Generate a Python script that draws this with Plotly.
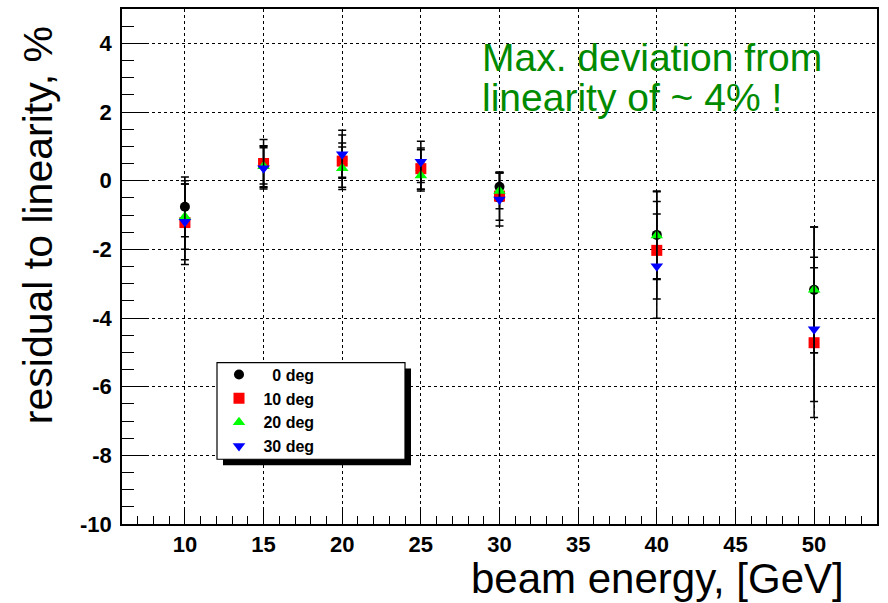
import plotly.graph_objects as go

# ---- data ----
energy = [10, 15, 20, 25, 30, 40, 50]

dev_0deg = [-0.76, 0.45, 0.60, 0.30, -0.18, -1.58, -3.18]
err_0deg = [0.87, 0.55, 0.50, 0.60, 0.42, 1.28, 1.83]

dev_10deg = [-1.22, 0.50, 0.57, 0.35, -0.45, -2.03, -4.72]
err_10deg = [1.22, 0.70, 0.76, 0.60, 0.70, 1.42, 2.18]

dev_20deg = [-1.05, 0.42, 0.36, 0.15, -0.30, -1.60, -3.18]
err_20deg = [0.95, 0.60, 0.62, 0.40, 0.52, 1.28, 1.83]

dev_30deg = [-1.20, 0.36, 0.77, 0.55, -0.55, -2.49, -4.33]
err_30deg = [1.10, 0.60, 0.70, 0.60, 0.77, 1.52, 2.10]

series_names = ["\u00a0\u00a0\u00a00 deg", "\u00a010 deg", "\u00a020 deg", "\u00a030 deg"]
series_dev = [dev_0deg, dev_10deg, dev_20deg, dev_30deg]
series_err = [err_0deg, err_10deg, err_20deg, err_30deg]
series_color = ["#000000", "#ff0000", "#00ff00", "#0000ff"]
series_symbol = ["circle", "square", "triangle-up", "triangle-down"]
series_size = [10, 11, 11, 11]

x_range = [6, 54]
y_range = [-10, 5]
y_tickvals = [-10, -8, -6, -4, -2, 0, 2, 4]
y_ticktext = ["-10", "-8", "-6", "-4", "-2", "0", "2", "4"]
x_tickvals = [10, 15, 20, 25, 30, 35, 40, 45, 50]
x_ticktext = ["10", "15", "20", "25", "30", "35", "40", "45", "50"]

FONT = "Liberation Sans, Arial, Helvetica, sans-serif"

fig = go.Figure()
for name, dev, err, col, sym, sz in zip(series_names, series_dev, series_err,
                                         series_color, series_symbol, series_size):
    fig.add_trace(go.Scatter(
        x=energy, y=dev, mode="markers", name=name,
        marker=dict(color=col, symbol=sym, size=sz, line=dict(width=0)),
        error_y=dict(type="data", array=err, visible=True, color="black",
                     thickness=1.5, width=4),
    ))

# plot area in pixels: x 122..877, y 7..524
W, H = 888, 603
L, R, T, B = 122, 877, 7, 524
def px(xp):
    return (xp - L) / (R - L)
def py(yp):
    return (B - yp) / (B - T)

# legend box with shadow
fig.add_shape(type="rect", xref="paper", yref="paper",
              x0=px(223), x1=px(411), y0=py(465), y1=py(368),
              fillcolor="black", line=dict(width=0), layer="above")
fig.add_shape(type="rect", xref="paper", yref="paper",
              x0=px(217), x1=px(405), y0=py(459), y1=py(362),
              fillcolor="white", line=dict(color="black", width=1.2), layer="above")

fig.update_layout(
    width=W, height=H,
    margin=dict(l=L, r=W - R, t=T, b=H - B),
    paper_bgcolor="white", plot_bgcolor="white",
    showlegend=True,
    legend=dict(x=px(219), y=py(357), xanchor="left", yanchor="top",
                bgcolor="rgba(0,0,0,0)", borderwidth=0, tracegroupgap=0,
                font=dict(family=FONT, size=16, color="black", weight="bold")),
    font=dict(family=FONT, color="black"),
)

axis_common = dict(showline=True, linecolor="black", linewidth=1.5, mirror=True,
                   ticks="inside", tickcolor="black", tickwidth=1.2,
                   showgrid=True, gridcolor="black", gridwidth=1, griddash="dot",
                   zeroline=False,
                   tickfont=dict(family=FONT, size=22, color="black", weight="bold"))

fig.update_xaxes(range=x_range, tickvals=x_tickvals, ticktext=x_ticktext, ticklen=15,
                 minor=dict(ticks="inside", dtick=1, tick0=0, ticklen=8, tickcolor="black",
                            tickwidth=1.2, showgrid=False),
                 **axis_common)
fig.update_yaxes(range=y_range, tickvals=y_tickvals, ticktext=y_ticktext, ticklen=24,
                 ticklabelstandoff=4,
                 minor=dict(ticks="inside", dtick=0.5, tick0=0, ticklen=12, tickcolor="black",
                            tickwidth=1.2, showgrid=False),
                 **axis_common)

# axis titles
fig.add_annotation(text="beam energy, [GeV]", xref="paper", yref="paper",
                   x=px(846), y=py(579), xanchor="right", yanchor="middle",
                   showarrow=False, font=dict(family=FONT, size=42, color="black"))
fig.add_annotation(text="residual to linearity, %", xref="paper", yref="paper",
                   x=px(38), y=py(224), xanchor="center", yanchor="middle",
                   textangle=-90, showarrow=False,
                   font=dict(family=FONT, size=41, color="black"))

# green remark
green = "#008a00"
fig.add_annotation(text="Max. deviation from", xref="paper", yref="paper",
                   x=px(480), y=py(56), xanchor="left", yanchor="middle",
                   showarrow=False, font=dict(family=FONT, size=39, color=green))
fig.add_annotation(text="linearity of ~ 4% !", xref="paper", yref="paper",
                   x=px(480), y=py(96), xanchor="left", yanchor="middle",
                   showarrow=False, font=dict(family=FONT, size=39, color=green))

fig.write_html("out.html")
